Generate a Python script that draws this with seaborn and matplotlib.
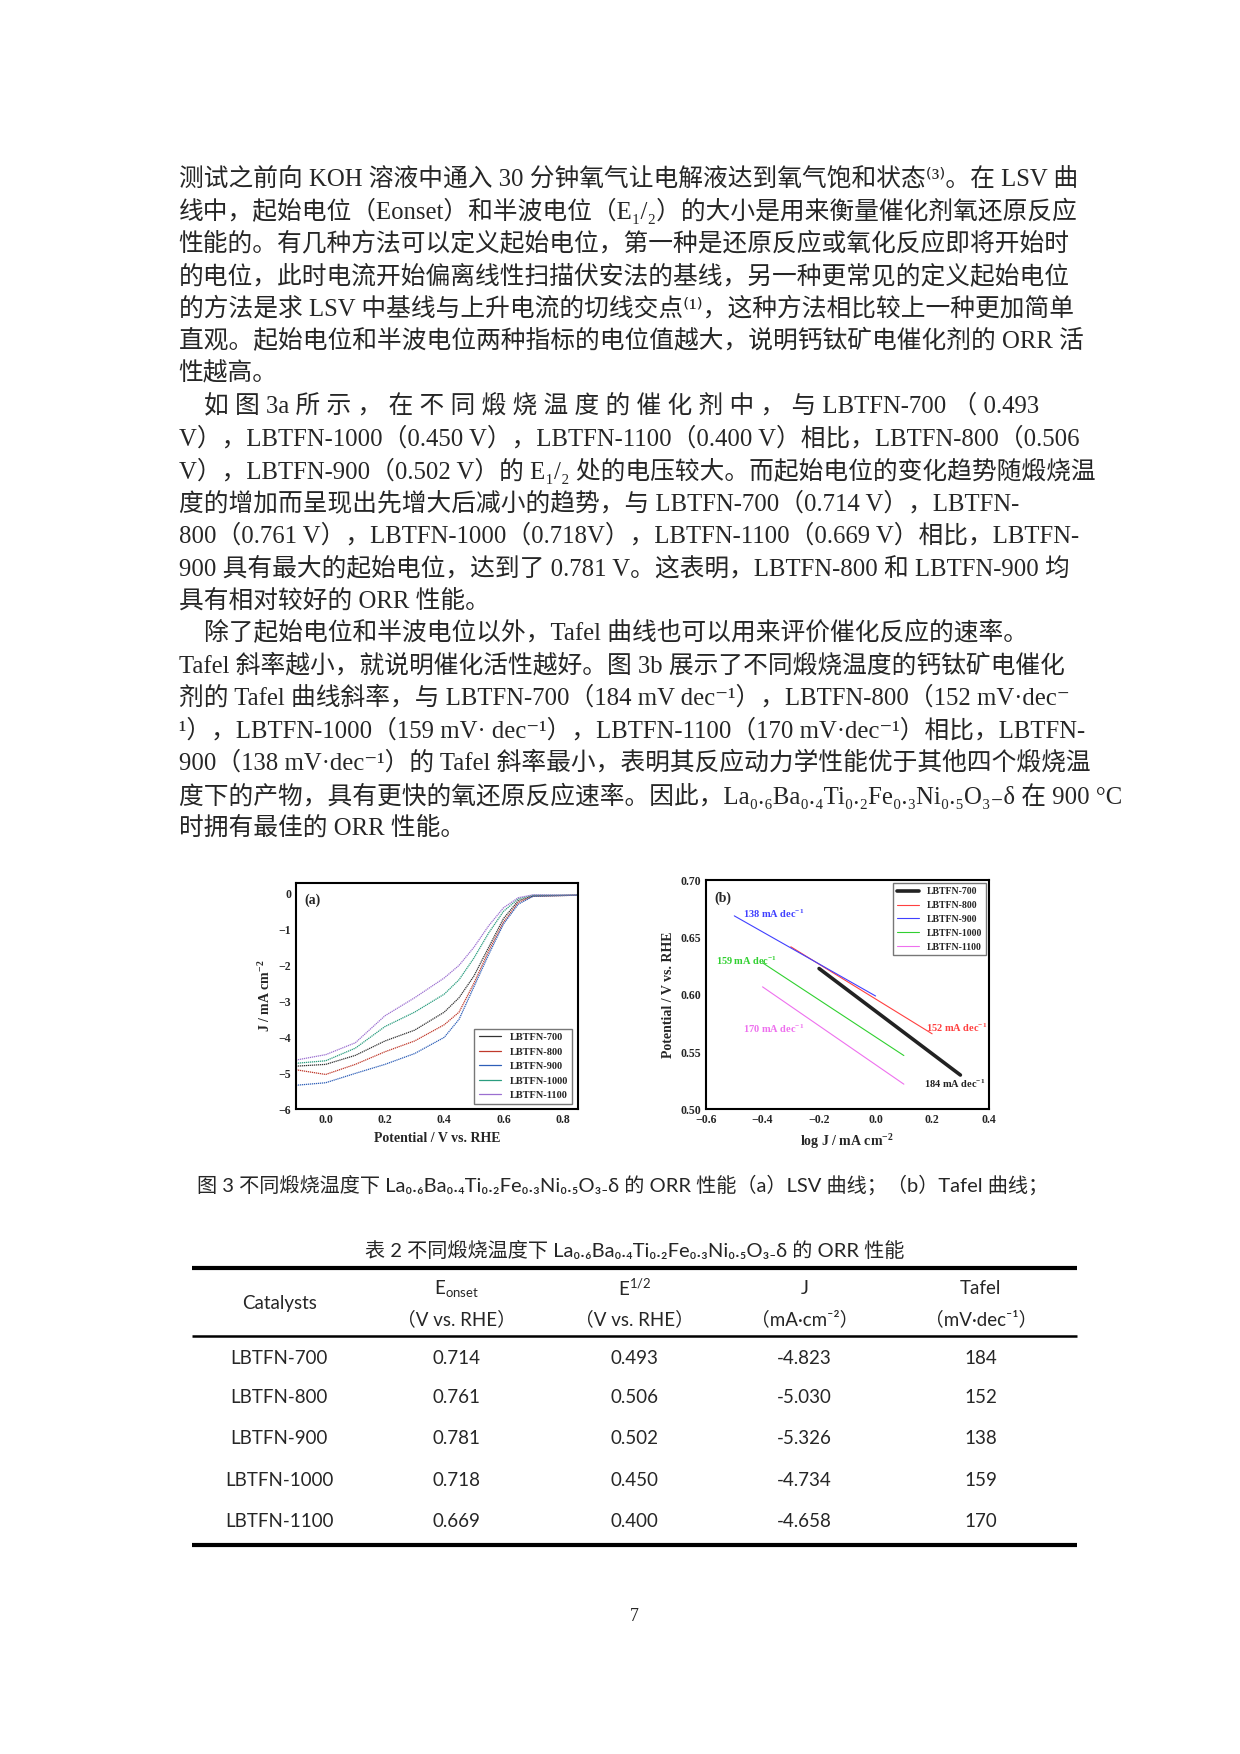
import matplotlib
matplotlib.use("Agg")
import matplotlib.pyplot as plt
import seaborn as sns
import pandas as pd

sns.set_style("white")
SERIF = ["Liberation Serif", "Noto Sans CJK SC", "DejaVu Sans"]
SANS = ["Lato", "Noto Sans CJK SC", "DejaVu Sans"]
plt.rcParams["font.family"] = SERIF
plt.rcParams["mathtext.default"] = "regular"

# ---- data ----
samples = ["LBTFN-700", "LBTFN-800", "LBTFN-900", "LBTFN-1000", "LBTFN-1100"]
lsv_potential = [-0.1, 0.0, 0.1, 0.2, 0.3, 0.4, 0.45, 0.5, 0.55, 0.6, 0.65, 0.7, 0.85]
lsv_current = {
    "LBTFN-700": [-4.80, -4.75, -4.50, -4.10, -3.80, -3.30, -2.90, -2.30, -1.50, -0.70, -0.20, -0.07, -0.05],
    "LBTFN-800": [-4.90, -5.03, -4.75, -4.40, -4.10, -3.65, -3.30, -2.50, -1.60, -0.80, -0.25, -0.08, -0.05],
    "LBTFN-900": [-5.33, -5.26, -5.00, -4.75, -4.45, -4.00, -3.50, -2.60, -1.70, -0.85, -0.30, -0.08, -0.05],
    "LBTFN-1000": [-4.72, -4.65, -4.30, -3.70, -3.30, -2.80, -2.40, -1.80, -1.10, -0.50, -0.15, -0.05, -0.05],
    "LBTFN-1100": [-4.63, -4.48, -4.15, -3.40, -2.90, -2.35, -2.00, -1.50, -0.90, -0.40, -0.12, -0.04, -0.05],
}
lsv_colors = ["#333333", "#c0392b", "#2e5fb8", "#2a9d7f", "#9b6fd0"]

tafel_logj = {
    "LBTFN-700": [-0.2, 0.3], "LBTFN-800": [-0.3, 0.2], "LBTFN-900": [-0.5, 0.0],
    "LBTFN-1000": [-0.4, 0.1], "LBTFN-1100": [-0.4, 0.1],
}
tafel_pot = {
    "LBTFN-700": [0.623, 0.530], "LBTFN-800": [0.642, 0.566], "LBTFN-900": [0.669, 0.599],
    "LBTFN-1000": [0.628, 0.547], "LBTFN-1100": [0.607, 0.522],
}
tafel_colors = ["#222222", "#ff4040", "#4040ff", "#30d030", "#ee70ee"]
tafel_slopes = ["184", "152", "138", "159", "170"]
tafel_label_pos = [(0.17, 0.519), (0.18, 0.568), (-0.47, 0.667), (-0.565, 0.626), (-0.47, 0.567)]

body_lines = [
    "测试之前向 KOH 溶液中通入 30 分钟氧气让电解液达到氧气饱和状态⁽³⁾。在 LSV 曲",
    "线中，起始电位（Eonset）和半波电位（E₁/₂）的大小是用来衡量催化剂氧还原反应",
    "性能的。有几种方法可以定义起始电位，第一种是还原反应或氧化反应即将开始时",
    "的电位，此时电流开始偏离线性扫描伏安法的基线，另一种更常见的定义起始电位",
    "的方法是求 LSV 中基线与上升电流的切线交点⁽¹⁾，这种方法相比较上一种更加简单",
    "直观。起始电位和半波电位两种指标的电位值越大，说明钙钛矿电催化剂的 ORR 活",
    "性越高。",
    "    如 图 3a 所 示 ， 在 不 同 煅 烧 温 度 的 催 化 剂 中 ， 与 LBTFN-700 （ 0.493",
    "V），LBTFN-1000（0.450 V），LBTFN-1100（0.400 V）相比，LBTFN-800（0.506",
    "V），LBTFN-900（0.502 V）的 E₁/₂ 处的电压较大。而起始电位的变化趋势随煅烧温",
    "度的增加而呈现出先增大后减小的趋势，与 LBTFN-700（0.714 V），LBTFN-",
    "800（0.761 V），LBTFN-1000（0.718V），LBTFN-1100（0.669 V）相比，LBTFN-",
    "900 具有最大的起始电位，达到了 0.781 V。这表明，LBTFN-800 和 LBTFN-900 均",
    "具有相对较好的 ORR 性能。",
    "    除了起始电位和半波电位以外，Tafel 曲线也可以用来评价催化反应的速率。",
    "Tafel 斜率越小，就说明催化活性越好。图 3b 展示了不同煅烧温度的钙钛矿电催化",
    "剂的 Tafel 曲线斜率，与 LBTFN-700（184 mV dec⁻¹），LBTFN-800（152 mV·dec⁻",
    "¹），LBTFN-1000（159 mV· dec⁻¹），LBTFN-1100（170 mV·dec⁻¹）相比，LBTFN-",
    "900（138 mV·dec⁻¹）的 Tafel 斜率最小，表明其反应动力学性能优于其他四个煅烧温",
    "度下的产物，具有更快的氧还原反应速率。因此，La₀.₆Ba₀.₄Ti₀.₂Fe₀.₃Ni₀.₅O₃₋δ 在 900 °C",
    "时拥有最佳的 ORR 性能。",
]

table_header1 = ["Catalysts", "E$_{onset}$", "E$^{1/2}$", "J", "Tafel"]
table_header2 = ["", "（V vs. RHE）", "（V vs. RHE）", "（mA·cm⁻²）", "（mV·dec⁻¹）"]
table_onset = ["0.714", "0.761", "0.781", "0.718", "0.669"]
table_half = ["0.493", "0.506", "0.502", "0.450", "0.400"]
table_j = ["-4.823", "-5.030", "-5.326", "-4.734", "-4.658"]
table_tafel = ["184", "152", "138", "159", "170"]

# ---- page ----
fig = plt.figure(figsize=(12.4, 17.54), dpi=100)
W, H = 1110.0, 1570.0  # layout measured on a 1110x1570 grid


def fx(x):
    return x / W


def fy(y):
    return 1 - y / H


for i, line in enumerate(body_lines):
    fig.text(fx(160), fy(160 + 29.05 * i), line, fontsize=17.8, family=SERIF, va="center")

# ---- (a) LSV ----
ax1 = fig.add_axes([fx(265), fy(993), fx(517 - 265), fy(790) - fy(993)])
lsv_df = pd.DataFrame(
    [(s, x, y) for s in samples for x, y in zip(lsv_potential, lsv_current[s])],
    columns=["sample", "potential", "current"],
)
sns.lineplot(data=lsv_df, x="potential", y="current", hue="sample", palette=lsv_colors,
             linewidth=0.9, linestyle=(0, (1, 0.6)), ax=ax1)
ax1.set_xlim(-0.1, 0.85)
ax1.set_ylim(-6, 0.3)
ax1.set_xticks([0.0, 0.2, 0.4, 0.6, 0.8])
ax1.set_yticks(range(-6, 1))
ax1.set_xlabel("Potential / V vs. RHE", fontsize=10, fontweight="bold", family=SERIF)
ax1.set_ylabel("J / mA cm$^{-2}$", fontsize=10, fontweight="bold", family=SERIF)
ax1.text(0.03, 0.95, "(a)", transform=ax1.transAxes, fontsize=10, fontweight="bold", va="top")
leg = ax1.legend(loc="lower right", fancybox=False,
                 prop={"weight": "bold", "size": 7.5, "family": SERIF}, handlelength=2.2)
leg.get_frame().set_edgecolor("#555555")
for line in leg.get_lines():
    line.set_linestyle("-")

# ---- (b) Tafel ----
ax2 = fig.add_axes([fx(632), fy(993), fx(885 - 632), fy(788) - fy(993)])
for s, c in zip(samples, tafel_colors):
    sns.lineplot(x=tafel_logj[s], y=tafel_pot[s], color=c, ax=ax2, label=s,
                 linewidth=2.6 if s == "LBTFN-700" else 0.8)
for slope, c, (x, y) in zip(tafel_slopes, tafel_colors, tafel_label_pos):
    ax2.text(x, y, slope + " mA dec$^{-1}$", color=c, fontsize=7.5, fontweight="bold")
ax2.set_xlim(-0.6, 0.4)
ax2.set_ylim(0.5, 0.7)
ax2.set_xticks([-0.6, -0.4, -0.2, 0.0, 0.2, 0.4])
ax2.set_yticks([0.50, 0.55, 0.60, 0.65, 0.70])
ax2.set_yticklabels(["0.50", "0.55", "0.60", "0.65", "0.70"])
ax2.set_xlabel("log J / mA cm$^{-2}$", fontsize=10, fontweight="bold", family=SERIF)
ax2.set_ylabel("Potential / V vs. RHE", fontsize=10, fontweight="bold", family=SERIF)
ax2.text(0.03, 0.95, "(b)", transform=ax2.transAxes, fontsize=10, fontweight="bold", va="top")
leg2 = ax2.legend(loc="upper right", fancybox=False, prop={"weight": "bold", "size": 7, "family": SERIF},
                  handlelength=2.2, borderaxespad=0.3)
leg2.get_frame().set_edgecolor("#555555")

for ax in (ax1, ax2):
    for sp in ax.spines.values():
        sp.set_linewidth(1.5)
        sp.set_color("black")
    ax.tick_params(direction="in", length=3, width=1.2, labelsize=8.5)
    for lab in ax.get_xticklabels() + ax.get_yticklabels():
        lab.set_fontweight("bold")

fig.text(fx(176), fy(1060),
         "图 3 不同煅烧温度下 La₀.₆Ba₀.₄Ti₀.₂Fe₀.₃Ni₀.₅O₃₋δ 的 ORR 性能（a）LSV 曲线；（b）Tafel 曲线；",
         fontsize=14.5, family=SANS, va="center")

# ---- table ----
fig.text(fx(568), fy(1119), "表 2 不同煅烧温度下 La₀.₆Ba₀.₄Ti₀.₂Fe₀.₃Ni₀.₅O₃₋δ 的 ORR 性能",
         fontsize=14.5, family=SANS, ha="center", va="center")
tab = fig.add_axes([0, 0, 1, 1], facecolor="none")
tab.set_xlim(0, W)
tab.set_ylim(H, 0)
tab.axis("off")
tab.hlines([1135, 1383], 172, 964, color="black", linewidth=3)
tab.hlines([1196], 172, 964, color="black", linewidth=1.8)
col_x = [250, 409, 568, 720, 878]
for i, (h1, h2) in enumerate(zip(table_header1, table_header2)):
    if i == 0:
        tab.text(col_x[i], 1167, h1, ha="center", va="center", fontsize=13.5, family=SANS)
    else:
        tab.text(col_x[i], 1153, h1, ha="center", va="center", fontsize=13.5, family=SANS)
        tab.text(col_x[i], 1181, h2, ha="center", va="center", fontsize=13.5, family=SANS)
row_y = [1216, 1251, 1288, 1325, 1362]
for r, y in enumerate(row_y):
    for c, val in enumerate([samples[r], table_onset[r], table_half[r], table_j[r], table_tafel[r]]):
        tab.text(col_x[c], y, val, ha="center", va="center", fontsize=13.5, family=SANS)

fig.text(fx(568), fy(1447), "7", fontsize=13, ha="center", va="center", family=SERIF)

fig.savefig("out.png", dpi=100)
